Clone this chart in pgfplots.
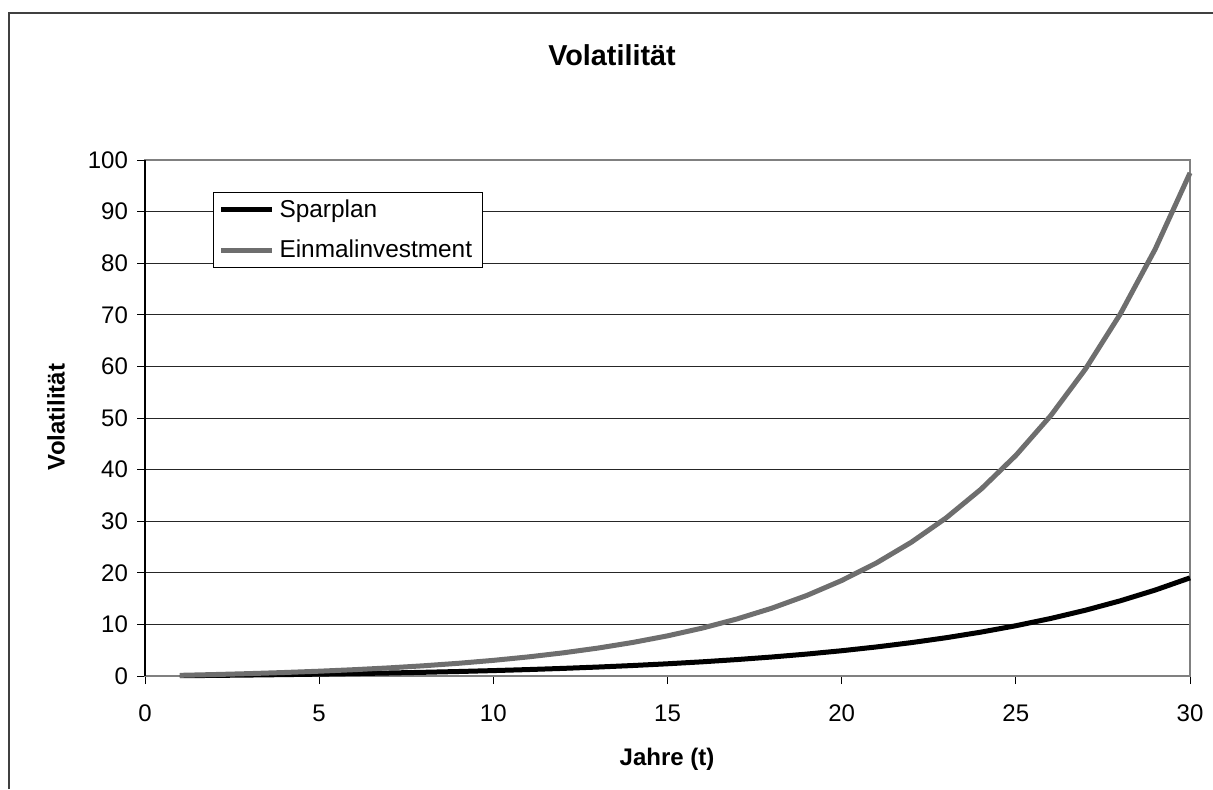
\documentclass[border=0pt]{standalone}
\usepackage{pgfplots}
\pgfplotsset{compat=1.18}
\usepackage{fontspec}
\setmainfont{Liberation Sans}
\definecolor{einmal}{RGB}{110,110,110}
\definecolor{frame}{RGB}{128,128,128}
\begin{document}
\begin{tikzpicture}
\path[use as bounding box] (0,0) rectangle (606.5pt,394.5pt);
\draw[line width=1pt, color=black!75] (4.5pt,0) -- (4.5pt,388pt) -- (606.5pt,388pt);
\begin{axis}[
  at={(72.5pt,56.5pt)}, anchor=south west,
  scale only axis, width=522.5pt, height=258pt,
  xmin=0, xmax=30, ymin=0, ymax=100,
  xtick={0,5,...,30}, ytick={0,10,...,100},
  xtick pos=bottom, ytick pos=left,
  tick align=outside, major tick length=4pt,
  tick style={black, line width=0.5pt},
  axis line style={frame, line width=0.75pt},
  ymajorgrids, grid style={black!85, line width=0.5pt},
  /pgf/number format/assume math mode=true,
  ticklabel style={font=\fontsize{12}{14}\selectfont},
  xticklabel style={yshift=-7pt},
  yticklabel style={xshift=-1pt},
  legend style={at={(0.0651,0.938)}, anchor=north west, draw=black, line width=0.5pt,
    fill=white, font=\fontsize{12.2}{14}\selectfont, inner xsep=2.5pt, inner ysep=2.5pt,
    row sep=8pt, nodes={inner xsep=2.5pt, inner ysep=1pt}},
  legend cell align=left,
  legend image code/.code={\draw[#1] (0pt,0pt) -- (25.5pt,0pt);},
  clip=false,
]
\addplot[black, line width=2.5pt, line join=round] coordinates {
(1,0.0546)(2,0.1167)(3,0.1875)(4,0.2681)(5,0.3598)(6,0.4643)(7,0.5833)(8,0.7189)(9,0.8732)(10,1.0490)
(11,1.2492)(12,1.4772)(13,1.7369)(14,2.0326)(15,2.3693)(16,2.7528)(17,3.1895)(18,3.6868)(19,4.2532)(20,4.8982)
(21,5.6329)(22,6.4694)(23,7.4222)(24,8.5069)(25,9.7425)(26,11.150)(27,12.752)(28,14.577)(29,16.655)(30,19.021)};
\addlegendentry{Sparplan}
\addplot[einmal, line width=2.5pt, line join=round] coordinates {
(1,0.1308)(2,0.2848)(3,0.4661)(4,0.6794)(5,0.9305)(6,1.2261)(7,1.5739)(8,1.9834)(9,2.4653)(10,3.0326)
(11,3.7002)(12,4.4862)(13,5.4111)(14,6.5000)(15,7.7815)(16,9.2899)(17,11.066)(18,13.155)(19,15.614)(20,18.509)
(21,21.917)(22,25.928)(23,30.648)(24,36.205)(25,42.745)(26,50.443)(27,59.504)(28,70.170)(29,82.722)(30,97.498)};
\addlegendentry{Einmalinvestment}
\draw[black, line width=0.75pt] (axis cs:0,0) -- (axis cs:0,100);
\end{axis}
\node[font=\fontsize{14.4}{17}\selectfont\bfseries] at (306pt,367pt) {Volatilität};
\node[font=\fontsize{12}{14}\selectfont\bfseries] at (333.5pt,15pt) {Jahre (t)};
\node[font=\fontsize{12}{14}\selectfont\bfseries, rotate=90] at (28pt,186pt) {Volatilität};
\end{tikzpicture}
\end{document}
